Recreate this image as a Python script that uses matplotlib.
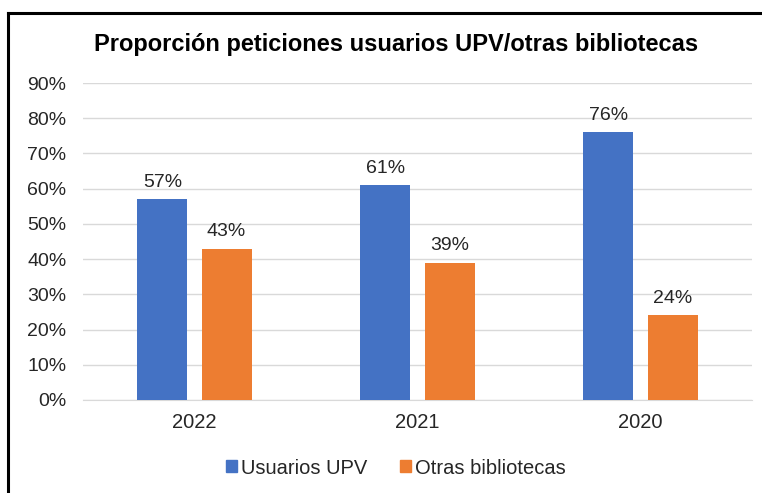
import numpy as np
import matplotlib.pyplot as plt
from matplotlib.lines import Line2D
from matplotlib.patches import Patch

# datos
years = ['2022', '2021', '2020']
usuarios_upv = [0.57, 0.61, 0.76]
otras_bibliotecas = [0.43, 0.39, 0.24]
y_ticks = [0.0, 0.1, 0.2, 0.3, 0.4, 0.5, 0.6, 0.7, 0.8, 0.9]

plt.rcParams['font.family'] = ['Liberation Sans', 'DejaVu Sans']
txt = '#262626'

fig = plt.figure(figsize=(7.62, 4.93), dpi=100)
ax = fig.add_axes([83 / 762, 1 - 400 / 493, (752 - 83) / 762, (400 - 83) / 493])

x = np.arange(len(years))
w = 0.225
off = 0.144
b1 = ax.bar(x - off, usuarios_upv, w, color='#4472C4', label='Usuarios UPV', zorder=3)
b2 = ax.bar(x + off, otras_bibliotecas, w, color='#ED7D31', label='Otras bibliotecas', zorder=3)

for bars, vals in ((b1, usuarios_upv), (b2, otras_bibliotecas)):
    for rect, v in zip(bars, vals):
        ax.annotate(f'{round(v * 100):d}%', (rect.get_x() + rect.get_width() / 2, v),
                    xytext=(0, 6), textcoords='offset points', ha='center', va='bottom',
                    fontsize=14, color=txt)

ax.set_xlim(-0.5, len(years) - 0.5)
ax.set_ylim(0, 0.9)
ax.set_yticks(y_ticks)
ax.set_yticklabels([f'{int(round(t * 100))}%' for t in y_ticks])
ax.set_xticks(x)
ax.set_xticklabels(years)
ax.tick_params(axis='both', length=0, labelsize=14, labelcolor=txt)
ax.tick_params(axis='x', labelsize=14.5, pad=9)
ax.tick_params(axis='y', pad=12)
ax.grid(axis='y', color='#D9D9D9', linewidth=1, zorder=0)
for s in ['top', 'right', 'left']:
    ax.spines[s].set_visible(False)
ax.spines['bottom'].set_color('#D9D9D9')

fig.text(396 / 762, 1 - 45 / 493, 'Proporción peticiones usuarios UPV/otras bibliotecas',
         ha='center', va='center', fontsize=17, fontweight='bold', color='black')

handles = [Patch(color='#4472C4'), Patch(color='#ED7D31')]
fig.legend(handles, ['Usuarios UPV', 'Otras bibliotecas'], loc='center',
           bbox_to_anchor=(396 / 762, 1 - 468 / 493), ncol=2, frameon=False,
           fontsize=14.5, handlelength=0.55, handleheight=0.55, handletextpad=0.2,
           columnspacing=1.6, labelcolor=txt)

# marco
fig.add_artist(Line2D([8 / 762, 8 / 762], [0, 1 - 13 / 493], color='black', lw=2.2))
fig.add_artist(Line2D([8 / 762, 1], [1 - 13 / 493, 1 - 13 / 493], color='black', lw=2.2))

plt.savefig('out.png', dpi=100)
